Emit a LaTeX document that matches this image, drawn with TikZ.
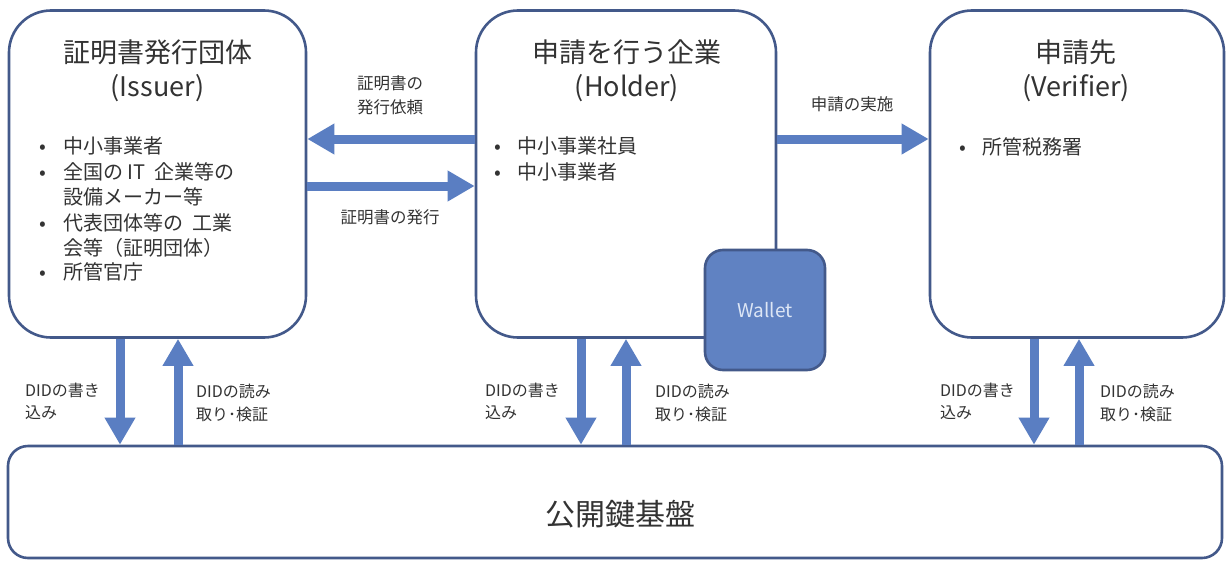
\documentclass[tikz,border=0pt]{standalone}
\usepackage{fontspec}
\setmainfont{Noto Sans CJK JP}
\usetikzlibrary{arrows.meta,calc}
\definecolor{edgec}{HTML}{43598A}
\definecolor{arrc}{HTML}{5A7EC2}
\definecolor{walc}{HTML}{6082C2}
\definecolor{txtc}{HTML}{333333}
\definecolor{waltxt}{HTML}{DDE6F5}
\begin{document}
\begin{tikzpicture}[x=1pt,y=-1pt,
  box/.style={draw=edgec,line width=2.6pt,rounded corners=42pt,fill=white,inner sep=0pt},
  fat/.style={draw=arrc,line width=9pt,-{Triangle[length=27pt,width=29pt]}},
  ttl/.style={font=\fontsize{27}{32}\selectfont,text=txtc,anchor=base,inner sep=0pt},
  lst/.style={font=\fontsize{20}{24}\selectfont,text=txtc,anchor=base west,inner sep=0pt},
  lbl/.style={font=\fontsize{16}{20}\selectfont,text=txtc,anchor=base west,inner sep=0pt},
  clbl/.style={font=\fontsize{16.5}{20}\selectfont,text=txtc,anchor=base,inner sep=0pt}]
\useasboundingbox (0,0) rectangle (1228,562);
\fill[white] (0,0) rectangle (1228,562);

% boxes
\node[box,minimum width=297pt,minimum height=327pt] (issuer) at (157.5,174) {};
\node[box,minimum width=300pt,minimum height=327pt] (holder) at (626,174) {};
\node[box,minimum width=294pt,minimum height=327pt] (verifier) at (1077,174) {};
\node[box,rounded corners=20pt,minimum width=1214pt,minimum height=112pt] (pki) at (615,502) {};
\node[draw=edgec,line width=2.6pt,fill=walc,rounded corners=18pt,minimum width=120pt,minimum height=120pt,inner sep=0pt] (wallet) at (765,310) {};
\node[font=\fontsize{19}{22}\selectfont,text=waltxt] (wallettxt) at (765,310) {Wallet};

% titles
\node[ttl] (it1) at (157.5,62) {証明書発行団体};
\node[ttl] (it2) at (157.5,96) {(Issuer)};
\node[ttl] (ht1) at (627,62) {申請を行う企業};
\node[ttl] (ht2) at (627,96) {(Holder)};
\node[ttl] (vt1) at (1076,62) {申請先};
\node[ttl] (vt2) at (1076,96) {(Verifier)};

% issuer list
\foreach \n/\y/\b/\t in {1/153/1/中小事業者,2/179/1/全国の\ IT\ \ 企業等の,3/204/0/設備メーカー等,4/230/1/代表団体等の\ \ 工業,5/255/0/会等（証明団体）,6/279/1/所管官庁}{
  \ifnum\b=1 \node[lst] (ib\n) at (39,\y) {\textbullet}; \fi
  \node[lst] (il\n) at (63,\y) {\t};
}
% holder list
\node[lst] (hb1) at (494,153) {\textbullet};
\node[lst] (hl1) at (517,153) {中小事業社員};
\node[lst] (hb2) at (494,179) {\textbullet};
\node[lst] (hl2) at (517,179) {中小事業者};
% verifier list
\node[lst] (vb1) at (959,154) {\textbullet};
\node[lst] (vl1) at (982,154) {所管税務署};

% horizontal arrows
\draw[fat] ([yshift=35pt]holder.west) -- ([yshift=35pt]issuer.east);
\draw[fat] ([yshift=-12pt]issuer.east) -- ([yshift=-12pt]holder.west);
\draw[fat] ([yshift=35pt]holder.east) -- ([yshift=35pt]verifier.west);

\node[clbl] (lq1) at (390,89) {証明書の};
\node[clbl] (lq2) at (390,113) {発行依頼};
\node[clbl] (lis) at (390,223) {証明書の発行};
\node[clbl] (lap) at (852,110) {申請の実施};

% vertical arrows
\coordinate (iw) at ([xshift=-37.5pt]issuer.south);
\coordinate (ir) at ([xshift=20.5pt]issuer.south);
\coordinate (hw) at ([xshift=-45pt]holder.south);
\coordinate (hr) at ([xshift=0pt]holder.south);
\coordinate (vw) at ([xshift=-43pt]verifier.south);
\coordinate (vr) at ([xshift=2pt]verifier.south);
\foreach \c in {iw,hw,vw}{ \draw[fat] (\c) -- (\c |- pki.north); }
\foreach \c in {ir,hr,vr}{ \draw[fat] (\c |- pki.north) -- (\c); }

\node[lbl] (iwl1) at (25,396) {DIDの書き};
\node[lbl] (iwl2) at (25,418) {込み};
\node[lbl] (irl1) at (196,397) {DIDの読み};
\node[lbl] (irl2) at (196,420) {取り･検証};
\node[lbl] (hwl1) at (485,396) {DIDの書き};
\node[lbl] (hwl2) at (485,418) {込み};
\node[lbl] (hrl1) at (655,397) {DIDの読み};
\node[lbl] (hrl2) at (655,420) {取り･検証};
\node[lbl] (vwl1) at (940,396) {DIDの書き};
\node[lbl] (vwl2) at (940,418) {込み};
\node[lbl] (vrl1) at (1100,397) {DIDの読み};
\node[lbl] (vrl2) at (1100,420) {取り･検証};

\node[font=\fontsize{30}{34}\selectfont,text=txtc,anchor=base,inner sep=0pt] (pkit) at (620,525) {公開鍵基盤};
\end{tikzpicture}
\end{document}
